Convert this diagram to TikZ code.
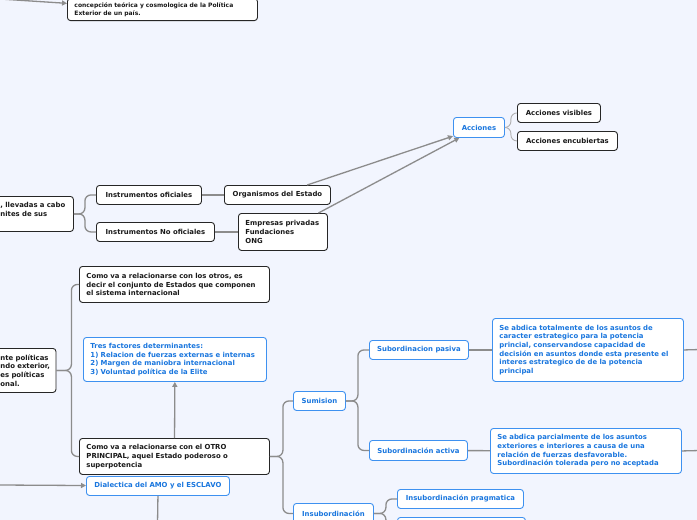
\documentclass[tikz,border=0pt]{standalone}
\usepackage{fontspec}
\setmainfont{DejaVu Sans}
\usetikzlibrary{arrows.meta}
\definecolor{mapbg}{RGB}{242,245,254}
\definecolor{bluebd}{RGB}{62,145,240}
\definecolor{bluetx}{RGB}{25,118,222}
\definecolor{linegray}{RGB}{140,140,140}
\tikzset{
  topic/.style={draw=black!85, fill=white, rounded corners=3pt, line width=0.9pt,
    text=black!90, font=\fontsize{6.9}{8.7}\selectfont\bfseries,
    inner xsep=7pt, inner ysep=4pt, anchor=north west},
  bluetopic/.style={topic, draw=bluebd, text=bluetx},
  branch/.style={draw=linegray, line width=1.3pt, rounded corners=6pt},
  thinbranch/.style={branch, draw=linegray!70, line width=0.9pt},
  arr/.style={branch, -{Triangle[width=5pt,length=5pt]}},
}
\begin{document}
\begin{tikzpicture}[x=1pt,y=-1pt]
    \useasboundingbox (0,0) rectangle (697,520);
    \clip (0,0) rectangle (697,520);
    \fill[mapbg] (0,0) rectangle (697,520);

    % Top: cut box
    \node[topic, anchor=south west, text width=176pt, align=left,
          font=\fontsize{6.0}{8.0}\selectfont\bfseries] (teoria) at (67,21)
        {concepción teórica y cosmologica de la Política\\Exterior de un país.};
    \coordinate (izq1) at (0,-1);
    \draw[arr] (izq1) -- (teoria);

    % Instruments and actions
    \node[topic, text width=66pt, align=left, minimum height=35pt] (llevadas) at (-7,196)
        {, llevadas a cabo\\nites de sus\\\mbox{}};
    \node[topic, minimum width=105pt, minimum height=19pt] (oficiales) at (96,185) {Instrumentos oficiales};
    \node[topic, minimum width=118pt, minimum height=19pt] (nooficiales) at (96,222) {Instrumentos No oficiales};
    \node[topic, minimum width=106pt, minimum height=19pt] (organismos) at (224,185) {Organismos del Estado};
    \node[topic, text width=75pt, align=left, minimum height=37pt] (empresas) at (238,213)
        {Empresas privadas\\Fundaciones\\ONG};
    \node[bluetopic, minimum width=51pt, minimum height=20pt] (acciones) at (453,117) {Acciones};
    \node[topic, minimum width=83pt, minimum height=19pt] (visibles) at (517,103) {Acciones visibles};
    \node[topic, minimum width=100pt, minimum height=19pt] (encubiertas) at (517,131) {Acciones encubiertas};

    \draw[branch] (llevadas.east) -- ++(11,0) |- (oficiales.west);
    \draw[branch] (llevadas.east) -- ++(11,0) |- (nooficiales.west);
    \draw[branch] (oficiales) -- (organismos);
    \draw[branch] (nooficiales) -- (empresas);
    \draw[arr] (organismos) -- (acciones);
    \draw[arr] (empresas) -- (acciones);
    \draw[thinbranch] (acciones.east) -- ++(6,0) |- (visibles.west);
    \draw[thinbranch] (acciones.east) -- ++(6,0) |- (encubiertas.west);

    % Relations with the others and with the principal
    \node[topic, text width=52pt, inner xsep=3.5pt, align=left, minimum height=44pt] (politicas) at (-3.5,348)
        {nte políticas\\ndo exterior,\\es políticas\\onal.};
    \node[topic, text width=176pt, align=left, minimum height=36pt] (otros) at (79,266)
        {Como va a relacionarse con los otros, es\\decir el conjunto de Estados que componen\\el sistema internacional};
    \node[bluetopic, text width=169pt, align=left, minimum height=44pt] (factores) at (83,337)
        {Tres factores determinantes:\\1) Relacion de fuerzas externas e internas\\2) Margen de maniobra internacional\\3) Voluntad política de la Elite};
    \node[topic, text width=176pt, align=left, minimum height=36pt] (principal) at (79,438)
        {Como va a relacionarse con el OTRO\\PRINCIPAL, aquel Estado poderoso o\\superpotencia};
    \node[bluetopic, minimum width=143pt, minimum height=19pt] (dialectica) at (86,476) {Dialectica del AMO y el ESCLAVO};

    \draw[branch] (politicas.east) -- ++(15,0) |- (otros.west);
    \draw[branch] (politicas.east) -- ++(15,0) |- (principal.west);
    \draw[arr] (principal) -- (factores);
    \coordinate (izq2) at (0,485);
    \draw[arr] (izq2) -- (dialectica);
    \coordinate (abajo) at (157.5,524);
    \draw[branch] (dialectica.south) -- (abajo);

    % Sumision / Insubordinacion
    \node[bluetopic, minimum width=52pt, minimum height=19pt] (sumision) at (293,391) {Sumision};
    \node[bluetopic, minimum width=99pt, minimum height=19pt] (pasiva) at (369,340) {Subordinacion pasiva};
    \node[bluetopic, text width=177pt, align=left, minimum height=63pt] (totalmente) at (492,318)
        {Se abdica totalmente de los asuntos de\\caracter estrategico para la potencia\\princial, conservandose capacidad de\\decisión en asuntos donde esta presente el\\interes estrategico de de la potencia\\principal};
    \node[bluetopic, minimum width=98pt, minimum height=20pt] (activa) at (369,440) {Subordinación activa};
    \node[bluetopic, text width=177pt, align=left, minimum height=45pt] (parcialmente) at (490,428)
        {Se abdica parcialmente de los asuntos\\exteriores e interiores a causa de una\\relación de fuerzas desfavorable.\\Subordinación tolerada pero no aceptada};
    \node[bluetopic, minimum width=80pt, minimum height=20pt] (insub) at (293,503) {Insubordinación};
    \node[bluetopic, minimum width=126pt, minimum height=19pt] (pragmatica) at (397,489) {Insubordinación pragmatica};
    \node[bluetopic, minimum width=128pt, minimum height=19pt] (insubotra) at (397,517) {};

    \draw[branch] (principal.east) -- ++(13,0) |- (sumision.west);
    \draw[branch] (principal.east) -- ++(13,0) |- (insub.west);
    \draw[branch] (sumision.east) -- ++(12,0) |- (pasiva.west);
    \draw[branch] (sumision.east) -- ++(12,0) |- (activa.west);
    \draw[branch] (pasiva) -- (totalmente);
    \draw[branch] (activa) -- (parcialmente);
    \coordinate (der1) at (700,349.5);
    \coordinate (der2) at (700,450.5);
    \draw[branch] (totalmente.east) -- (der1);
    \draw[branch] (parcialmente.east) -- (der2);
    \draw[branch] (insub.east) -- ++(12,0) |- (pragmatica.west);
    \draw[branch] (insub.east) -- ++(12,0) |- (insubotra.west);
\end{tikzpicture}
\end{document}
